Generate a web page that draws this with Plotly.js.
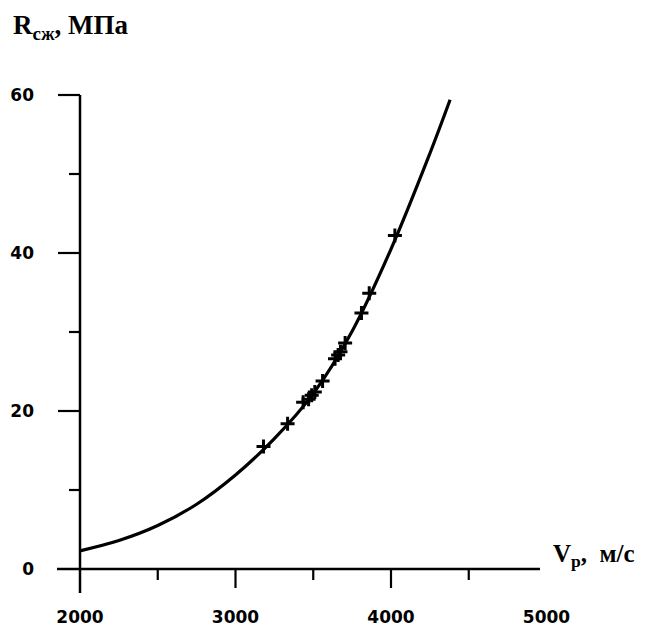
<!DOCTYPE html>
<html>
<head>
<meta charset="utf-8">
<script src="https://cdn.plot.ly/plotly-3.0.1.min.js"></script>
<style>html,body{margin:0;padding:0;background:#fff;}#chart{width:656px;height:630px;}</style>
</head>
<body>
<div id="chart"></div>
<script>
// Fitted curve
const curveV = [2000, 2250, 2500, 2750, 3000, 3250, 3500, 3750, 4000, 4250, 4380];
const curveR = [2.3, 3.6, 5.5, 8.2, 11.9, 16.5, 22.2, 30.1, 40.5, 52.6, 59.4];
// Measured points (crosses)
const pointV = [3180, 3335, 3435, 3470, 3490, 3510, 3560, 3640, 3660, 3675, 3705, 3810, 3860, 4025];
const pointR = [15.5, 18.4, 21.1, 21.5, 22.0, 22.4, 23.8, 26.6, 27.1, 27.5, 28.6, 32.4, 34.9, 42.2];
// Axis ticks
const xMajorTicks = [3000, 4000];
const xMinorTicks = [2500, 3500, 4500];
const xTickLabels = [2000, 3000, 4000, 5000];
const yMajorTicks = [20, 40, 60];
const yMinorTicks = [10, 30, 50];
const yTickLabels = [0, 20, 40, 60];
const yTitle = 'R<sub>сж</sub>, МПа';
const xTitle = 'V<sub>p</sub>,  м/с';

const pxX = 0.1555; // px per unit on x
const pxY = 7.9;    // px per unit on y
const ink = '#000';

const shapes = [];
// x axis line (extends a bit left of the y axis)
shapes.push({type:'line', xref:'x', yref:'y', x0:2000 - 23/pxX, x1:4958, y0:0, y1:0, line:{color:ink, width:2.5}});
// y axis line (extends a bit below the x axis)
shapes.push({type:'line', xref:'x', yref:'y', x0:2000, x1:2000, y0:-24/pxY, y1:60, line:{color:ink, width:2.5}});
xMajorTicks.forEach(v => shapes.push({type:'line', xref:'x', yref:'y', x0:v, x1:v, y0:0, y1:-19/pxY, line:{color:ink, width:2.2}}));
xMinorTicks.forEach(v => shapes.push({type:'line', xref:'x', yref:'y', x0:v, x1:v, y0:0, y1:-11/pxY, line:{color:ink, width:2.2}}));
yMajorTicks.forEach(v => shapes.push({type:'line', xref:'x', yref:'y', x0:2000, x1:2000 - 22/pxX, y0:v, y1:v, line:{color:ink, width:2.2}}));
yMinorTicks.forEach(v => shapes.push({type:'line', xref:'x', yref:'y', x0:2000, x1:2000 - 11/pxX, y0:v, y1:v, line:{color:ink, width:2.2}}));

const traces = [
  {x: curveV, y: curveR, type:'scatter', mode:'lines', line:{color:ink, width:3.2, shape:'spline', smoothing:1}, hoverinfo:'skip'},
  {x: pointV, y: pointR, type:'scatter', mode:'markers', marker:{symbol:'cross-thin', size:10, color:ink, line:{color:ink, width:3}}}
];

const tickFont = {family:'DejaVu Sans', size:17, weight:'bold', color:ink};
const layout = {
  width:656, height:630,
  margin:{l:54, r:96, t:90, b:35},
  paper_bgcolor:'#fff', plot_bgcolor:'#fff',
  showlegend:false,
  xaxis:{range:[2000 - 26/pxX, 2000 + 480/pxX], showline:false, showgrid:false, zeroline:false, ticks:'',
         tickvals:xTickLabels, ticktext:xTickLabels.map(String), tickfont:tickFont, ticklabelstandoff:10},
  yaxis:{range:[-26/pxY, (569-90)/pxY], showline:false, showgrid:false, zeroline:false, ticks:'',
         tickvals:yTickLabels, ticktext:yTickLabels.map(String), tickfont:tickFont, ticklabelstandoff:19},
  shapes: shapes,
  annotations:[
    {xref:'paper', yref:'paper', x:(11-54)/506, y:(595-27)/505, xanchor:'left', yanchor:'middle', showarrow:false,
     text:yTitle, font:{family:'Liberation Serif', size:27, weight:'bold', color:ink}},
    {xref:'paper', yref:'paper', x:(551-54)/506, y:(595-555)/505, xanchor:'left', yanchor:'middle', showarrow:false,
     text:xTitle, font:{family:'Liberation Serif', size:25, weight:'bold', color:ink}}
  ]
};
Plotly.newPlot('chart', traces, layout, {staticPlot:true});
</script>
</body>
</html>
